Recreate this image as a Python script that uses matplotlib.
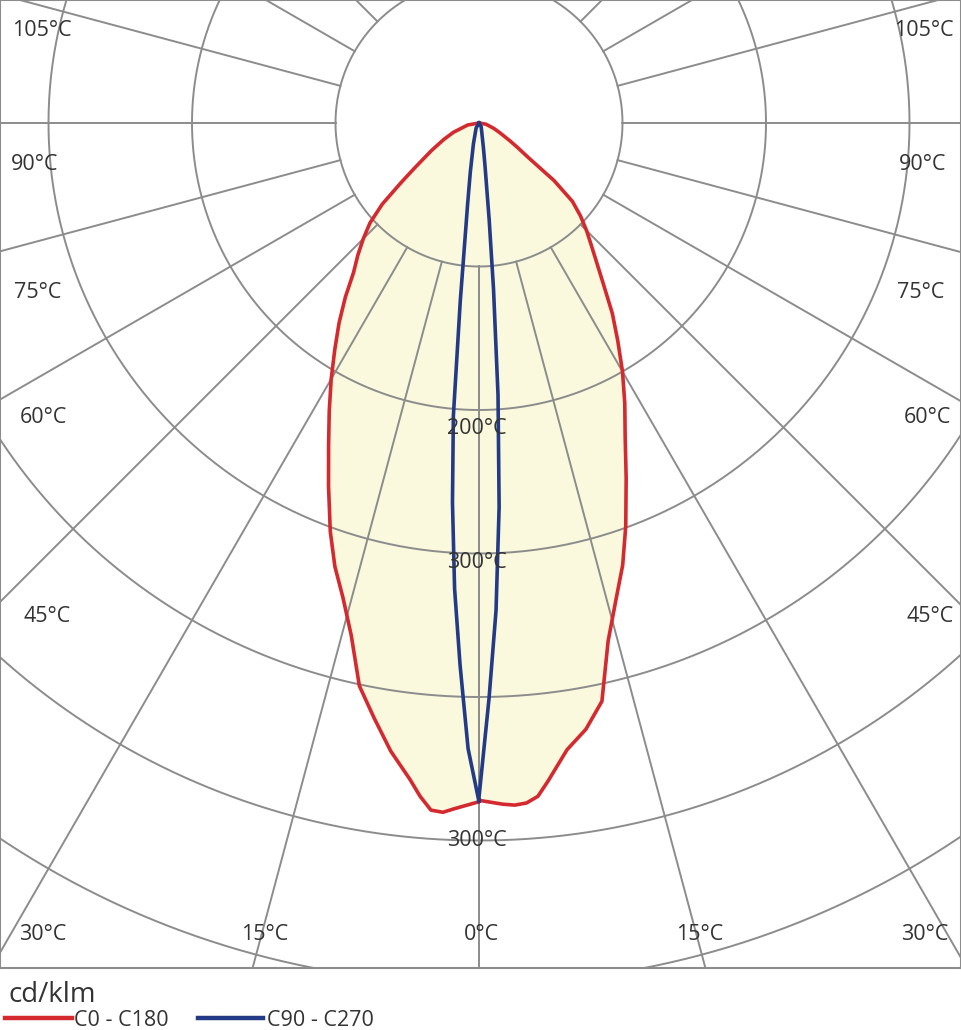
import numpy as np
import matplotlib.pyplot as plt
from matplotlib.lines import Line2D

# gamma angles (deg from nadir) and intensities in cd/klm
c_angles = [0, 2, 3, 4, 5, 6, 8, 10, 12, 14, 16, 18, 20, 22.5, 25, 27.5, 30, 32.5,
            35, 37.5, 40, 42.5, 45, 47.5, 50, 52.5, 55, 57.5, 60, 65, 70, 80, 90]
c0_values = [472, 475, 476, 475, 471, 461, 441, 429, 412, 372, 346, 324, 299, 268, 241,
             220, 200, 180, 162, 143, 128, 116, 106, 96, 85, 66, 42, 32, 25, 16, 11, 5, 0]
c180_values = [473, 478, 481, 480, 471, 460, 442, 421, 401, 368, 344, 325, 303, 274, 248,
               226, 206, 187, 170, 153, 136, 125, 114, 103, 88, 69, 55, 45, 38, 27, 19, 8, 0]

c90_angles = [0, 1, 2, 3, 4, 5, 6, 8, 10, 15, 30, 90]
c90_values = [470, 401, 340, 268, 190, 116, 68, 30, 18, 8, 3, 0]
c270_angles = [0, 1, 2, 3, 4, 5, 6, 7, 8, 10, 15, 30, 90]
c270_values = [473, 436, 378, 325, 265, 205, 125, 78, 57, 35, 15, 4, 0]

ring_values = [100, 200, 300, 400, 500, 600, 700]
ring_labels = {200: "200°C", 300: "300°C", 500: "300°C"}
spoke_angles = list(range(0, 360, 15))
side_labels = ["105°C", "90°C", "75°C", "60°C", "45°C", "30°C"]
bottom_labels = ["15°C", "0°C", "15°C"]

S = 1.435  # pixels per cd/klm
CX, CY = 479, 123


def px(x, y):
    return (x - CX) / S, (CY - y) / S


def polar_xy(angles, values, sign=1):
    a = np.radians(angles) * sign
    v = np.asarray(values, dtype=float)
    return v * np.sin(a), -v * np.cos(a)


W, H = 961, 1030
fig = plt.figure(figsize=(W / 100, H / 100), dpi=100)
ax = fig.add_axes([0, (H - 968) / H, 1, 968 / H])
ax.set_xlim(px(0, 0)[0], px(961, 0)[0])
ax.set_ylim(px(0, 968)[1], px(0, 0)[1])
ax.set_xticks([])
ax.set_yticks([])
for sp in ax.spines.values():
    sp.set_color("#8c8c8c")
    sp.set_linewidth(1.5)

grid = "#8c8c8c"
text_c = "#333333"
font = "Open Sans"

# red curve (C0 - C180) with fill
xr, yr = polar_xy(c_angles[::-1], c0_values[::-1], 1)
xl, yl = polar_xy(c_angles, c180_values, -1)
red_x = np.concatenate([xr, xl])
red_y = np.concatenate([yr, yl])
ax.fill(red_x, red_y, color="#faf8dd", zorder=1, lw=0)

# grid rings and spokes
t = np.linspace(0, 2 * np.pi, 720)
for r in ring_values:
    ax.plot(r * np.cos(t), r * np.sin(t), color=grid, lw=1.4, zorder=2)
for a in spoke_angles:
    ar = np.radians(a)
    ax.plot([100 * np.sin(ar), 1000 * np.sin(ar)], [-100 * np.cos(ar), -1000 * np.cos(ar)],
            color=grid, lw=1.4, zorder=2)

ax.plot(red_x, red_y, color="#d42a2f", lw=2.6, zorder=4, solid_joinstyle="round")

# blue curve (C90 - C270)
bx1, by1 = polar_xy(c90_angles[::-1], c90_values[::-1], 1)
bx2, by2 = polar_xy(c270_angles, c270_values, -1)
ax.plot(np.concatenate([bx1, bx2]), np.concatenate([by1, by2]),
        color="#233a86", lw=2.6, zorder=5, solid_joinstyle="round")

# labels
fs = 15.5
dy = 3  # nudge text down to sit like the original
left_pos = [(42, 28), (35, 162), (38, 290), (43, 415), (47, 614), (43, 931)]
right_pos = [(924, 28), (923, 162), (921, 290), (927, 415), (930, 614), (925, 931)]
for lab, (x, y) in zip(side_labels, left_pos):
    ax.text(*px(x, y + dy), lab, ha="center", va="center", fontsize=fs, color=text_c,
            family=font, zorder=6)
for lab, (x, y) in zip(side_labels, right_pos):
    ax.text(*px(x, y + dy), lab, ha="center", va="center", fontsize=fs, color=text_c,
            family=font, zorder=6)
for lab, x in zip(bottom_labels, [265, 481, 700]):
    ax.text(*px(x, 931 + dy), lab, ha="center", va="center", fontsize=fs, color=text_c,
            family=font, zorder=6)
ring_y = {200: 426, 300: 560, 500: 838}
for r, lab in ring_labels.items():
    ax.text(*px(477, ring_y[r] + dy), lab, ha="center", va="center", fontsize=fs,
            color=text_c, family=font, zorder=6)

# unit and legend below the plot
fig.text(8 / W, 1 - 995 / H, "cd/klm", ha="left", va="center", fontsize=20,
         color=text_c, family=font)
fig.add_artist(Line2D([5 / W, 72 / W], [1 - 1018 / H] * 2, color="#d42a2f", lw=3.2))
fig.text(74 / W, 1 - 1020 / H, "C0 - C180", ha="left", va="center", fontsize=15.5,
         color=text_c, family=font)
fig.add_artist(Line2D([198 / W, 263 / W], [1 - 1018 / H] * 2, color="#233a86", lw=3.2))
fig.text(267 / W, 1 - 1020 / H, "C90 - C270", ha="left", va="center", fontsize=15.5,
         color=text_c, family=font)

fig.savefig("out.png", dpi=100, facecolor="white")
